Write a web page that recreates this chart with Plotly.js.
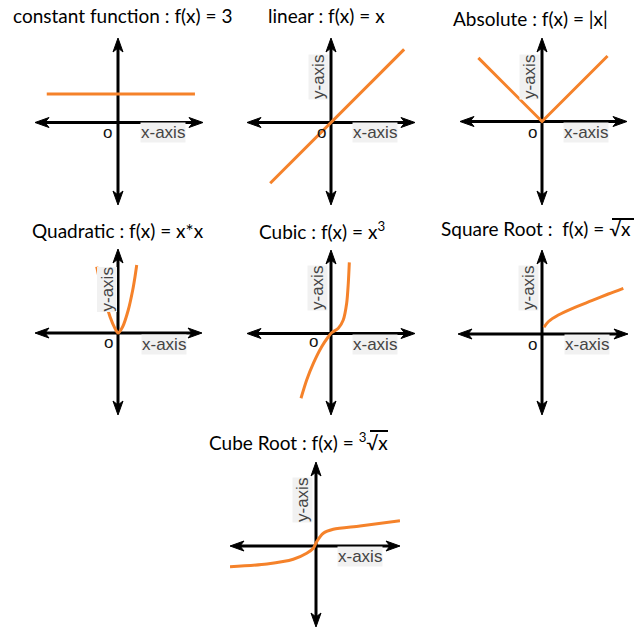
<!DOCTYPE html>
<html>
<head>
<meta charset="utf-8">
<script src="https://cdn.plot.ly/plotly-3.0.1.min.js"></script>
<style>html,body{margin:0;padding:0;background:#fff;}#chart{width:643px;height:634px;}</style>
</head>
<body>
<div id="chart"></div>
<script>
// ---------- data (function sketches, in axis units) ----------
const titles = [
  "constant function : f(x) = 3",
  "linear : f(x) = x",
  "Absolute : f(x) = |x|",
  "Quadratic : f(x) = x*x",
  "Cubic : f(x) = x<sup>3</sup>",
  "Square Root :  f(x) = √x",
  "Cube Root : f(x) = <sup>3</sup>√x"
];

const constX = [-7.5, 8.1];
const constY = [3, 3];

const linearX = [-6.4, 7.7];
const linearY = [-6.4, 7.7];

const absX = [-6.7, 0, 6.9];
const absY = [6.7, 0, 6.9];

const quadX = [-2.24, -1.89, -1.37, -0.84, -0.32, 0, 0.49, 1.08, 1.55, 1.79, 1.97];
const quadY = [6.98, 5.4, 3.47, 1.72, 0.49, 0, 0.66, 2.42, 4.53, 5.93, 7.16];

const cubicX = [-3.16, -2.56, -1.86, -0.98, -0.28, 0.07, 0.77, 1.29, 1.65, 1.82, 1.93];
const cubicY = [-6.82, -4.89, -3.14, -1.39, -0.34, 0.08, 0.55, 1.42, 3.18, 5.28, 7.49];

const sqrtX = [0.21, 0.66, 1.72, 3.47, 5.23, 6.98, 8.56];
const sqrtY = [0.71, 1.29, 2.0, 2.81, 3.51, 4.21, 4.81];

const cbrtX = [-9.05, -5.16, -2.39, -0.98, -0.28, 0.07, 0.77, 1.82, 4.63, 8.84];
const cbrtY = [-2.18, -1.89, -1.4, -0.77, -0.24, 0.45, 1.34, 1.76, 2.11, 2.66];

const seriesX = [constX, linearX, absX, quadX, cubicX, sqrtX, cbrtX];
const seriesY = [constY, linearY, absY, quadY, cubicY, sqrtY, cbrtY];
const smooth = [false, false, false, true, true, true, true];

// ---------- layout geometry (pixels) ----------
const W = 643, H = 634, U = 9.5;
// origin, left/right/top/bottom arrow tips
const geo = [
  {ox:118, oy:122.5, l:35,  r:203, t:38,  b:205},
  {ox:331, oy:122.5, l:247, r:415, t:38,  b:205},
  {ox:542, oy:121.5, l:460, r:627, t:38,  b:205},
  {ox:118, oy:333,   l:35,  r:202, t:249, b:415},
  {ox:331, oy:333.5, l:247, r:415, t:250, b:415},
  {ox:542, oy:334,   l:458, r:628, t:250, b:415},
  {ox:316, oy:546,   l:230, r:400, t:462, b:627}
];
const titlePos = [[122,16],[326,16],[530,18],[117.5,231],[322,231],[536,229],[298,441]];
const oPos = [[107,132],[321,132],[532,132],[108,342],[313,341],[532,345],null];
const xLabPos = [[163,132],[375,132],[586,132],[163.5,344],[375,344],[587,345],[360,556]];
const yLabPos = [null,[318,77],[529,77],[106.5,290],[317,288],[528,288],[302,500]];
// overline bars of the radical signs [x0, x1, y] (px)
const radicalBars = [[612, 634, 219], [370, 388, 431]];

const ORANGE = '#F5822A';
const traces = [];
const shapes = [];
const annotations = [];
const layout = {
  width: W, height: H,
  margin: {l:0, r:0, t:0, b:0},
  paper_bgcolor: '#fff', plot_bgcolor: 'rgba(0,0,0,0)',
  showlegend: false,
  shapes: shapes, annotations: annotations
};

const HL = 14, HW = 5, HN = 10; // arrowhead length, half width, notch (px)

geo.forEach((g, i) => {
  const k = i + 1;
  const xa = 'xaxis' + (k === 1 ? '' : k), ya = 'yaxis' + (k === 1 ? '' : k);
  const xr = 'x' + (k === 1 ? '' : k), yr = 'y' + (k === 1 ? '' : k);
  const x0 = (g.l - g.ox) / U, x1 = (g.r - g.ox) / U;
  const y0 = -(g.b - g.oy) / U, y1 = (g.oy - g.t) / U;
  layout[xa] = {domain:[g.l / W, g.r / W], range:[x0, x1], visible:false, fixedrange:true, anchor: yr};
  layout[ya] = {domain:[1 - g.b / H, 1 - g.t / H], range:[y0, y1], visible:false, fixedrange:true, anchor: xr};

  const hl = HL / U, hw = HW / U, hn = HN / U;
  const line = {color:'#000', width:3};
  shapes.push({type:'line', xref:xr, yref:yr, x0:x0 + hn, x1:x1 - hn, y0:0, y1:0, line:line, layer:'below'});
  shapes.push({type:'line', xref:xr, yref:yr, y0:y0 + hn, y1:y1 - hn, x0:0, x1:0, line:line, layer:'below'});
  const heads = [
    `M${x1},0 L${x1-hl},${hw} L${x1-hn},0 L${x1-hl},${-hw} Z`,
    `M${x0},0 L${x0+hl},${hw} L${x0+hn},0 L${x0+hl},${-hw} Z`,
    `M0,${y1} L${hw},${y1-hl} L0,${y1-hn} L${-hw},${y1-hl} Z`,
    `M0,${y0} L${hw},${y0+hl} L0,${y0+hn} L${-hw},${y0+hl} Z`
  ];
  heads.forEach(p => shapes.push({type:'path', xref:xr, yref:yr, path:p, fillcolor:'#000', line:{color:'#000', width:1}, layer:'below'}));

  traces.push({
    type:'scatter', mode:'lines', x:seriesX[i], y:seriesY[i], xaxis:xr, yaxis:yr,
    line:{color:ORANGE, width:3, shape: smooth[i] ? 'spline' : 'linear', smoothing: 0.8},
    hoverinfo:'skip'
  });

  annotations.push({xref:'paper', yref:'paper', x:titlePos[i][0] / W, y:1 - titlePos[i][1] / H,
    xanchor:'center', yanchor:'middle', showarrow:false, text:titles[i],
    font:{family:'Lato, "Noto Sans", sans-serif', size:19, color:'#000'}});
  if (oPos[i]) annotations.push({xref:'paper', yref:'paper', x:oPos[i][0] / W, y:1 - oPos[i][1] / H,
    xanchor:'center', yanchor:'middle', showarrow:false, text:'o',
    font:{family:'"Liberation Sans", Arial, sans-serif', size:17, color:'#111'}});
  annotations.push({xref:'paper', yref:'paper', x:xLabPos[i][0] / W, y:1 - xLabPos[i][1] / H,
    xanchor:'center', yanchor:'middle', showarrow:false, text:'x-axis', bgcolor:'#f1f1f1', borderpad:0,
    font:{family:'"Liberation Sans", Arial, sans-serif', size:17, color:'#444'}});
  if (yLabPos[i]) annotations.push({xref:'paper', yref:'paper', x:yLabPos[i][0] / W, y:1 - yLabPos[i][1] / H,
    xanchor:'center', yanchor:'middle', showarrow:false, text:'y-axis', textangle:-90, bgcolor:'#f1f1f1', borderpad:0,
    font:{family:'"Liberation Sans", Arial, sans-serif', size:17, color:'#444'}});
});

radicalBars.forEach(b => shapes.push({type:'line', xref:'paper', yref:'paper',
  x0:b[0] / W, x1:b[1] / W, y0:1 - b[2] / H, y1:1 - b[2] / H, line:{color:'#000', width:2}}));

Plotly.newPlot('chart', traces, layout, {staticPlot:true, displayModeBar:false});
</script>
</body>
</html>
